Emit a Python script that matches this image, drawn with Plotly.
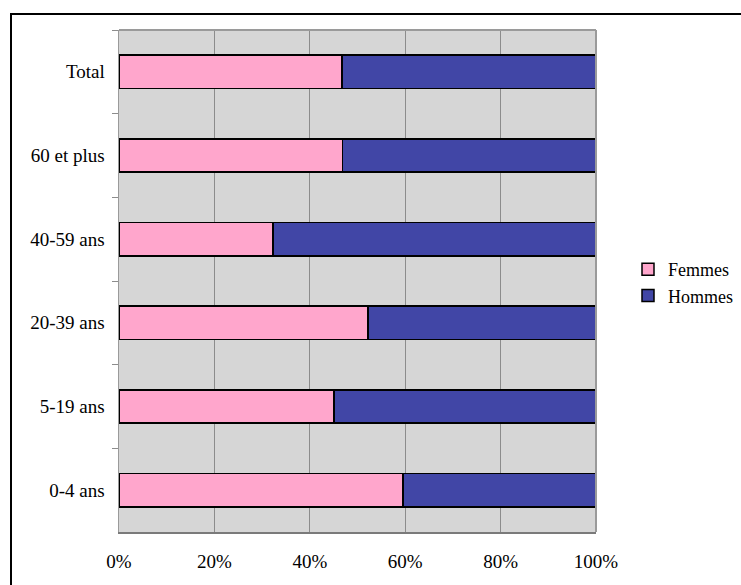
import plotly.graph_objects as go

categories = ["Total", "60 et plus", "40-59 ans", "20-39 ans", "5-19 ans", "0-4 ans"]
femmes = [46.8, 46.9, 32.3, 52.2, 45.1, 59.5]
hommes = [100 - v for v in femmes]
x_ticks = [0, 20, 40, 60, 80, 100]
x_tick_labels = ["0%", "20%", "40%", "60%", "80%", "100%"]

W, H = 741, 585
L, R, T, B = 119, 145, 30, 53
pw, ph = W - L - R, H - T - B
FAM = "Liberation Serif"
FS = 19

fig = go.Figure()
fig.add_trace(go.Bar(y=categories, x=femmes, name="Femmes", orientation="h",
                     marker=dict(color="#ffa6cc", line=dict(color="#000000", width=1.5))))
fig.add_trace(go.Bar(y=categories, x=hommes, name="Hommes", orientation="h",
                     marker=dict(color="#4146a6", line=dict(color="#000000", width=1.5))))

fig.update_layout(
    width=W, height=H,
    margin=dict(l=L, r=R, t=T, b=B, pad=0, autoexpand=False),
    barmode="stack", bargap=0.6,
    paper_bgcolor="#ffffff", plot_bgcolor="#d6d6d6",
    font=dict(family=FAM, size=FS, color="#000000"),
    showlegend=True,
    legend=dict(xref="container", yref="container", x=628 / W, y=1 - 251 / H,
                xanchor="left", yanchor="top", traceorder="normal",
                font=dict(family=FAM, size=18), bgcolor="rgba(0,0,0,0)",
                itemwidth=30, tracegroupgap=0),
    xaxis=dict(range=[0, 100], tickvals=x_ticks, ticktext=x_tick_labels,
               showgrid=True, gridcolor="#8c8c8c", gridwidth=1,
               ticks="outside", ticklen=11, tickcolor="rgba(0,0,0,0)",
               showline=True, linecolor="#7a7a7a", linewidth=2,
               zeroline=False, fixedrange=True,
               tickfont=dict(family=FAM, size=FS)),
    xaxis2=dict(overlaying="x", matches="x", anchor="y", side="bottom",
                tickvals=x_ticks, showticklabels=False,
                ticks="outside", ticklen=6, tickcolor="#8c8c8c",
                showgrid=False, showline=False, zeroline=False, fixedrange=True),
    yaxis=dict(categoryorder="array", categoryarray=categories, autorange="reversed",
               ticks="outside", tickson="boundaries", ticklen=6, tickcolor="#8c8c8c",
               ticksuffix="\u2002",
               showline=True, linecolor="#9a9a9a", linewidth=1,
               showgrid=False, zeroline=False, fixedrange=True,
               tickfont=dict(family=FAM, size=FS)),
    shapes=[
        dict(type="line", xref="paper", yref="paper", x0=0, x1=1, y0=1, y1=1,
             line=dict(color="#9a9a9a", width=2)),
        dict(type="line", xref="paper", yref="paper", x0=1, x1=1, y0=0, y1=1,
             line=dict(color="#9a9a9a", width=2)),
        dict(type="rect", xref="paper", yref="paper",
             x0=(11 - L) / pw, y0=-(H + 3 - T - ph) / ph,
             x1=(W + 3 - L) / pw, y1=1 + (T - 14) / ph,
             line=dict(color="#000000", width=2), fillcolor="rgba(0,0,0,0)", layer="below"),
    ],
)

fig.write_html("out.html")
